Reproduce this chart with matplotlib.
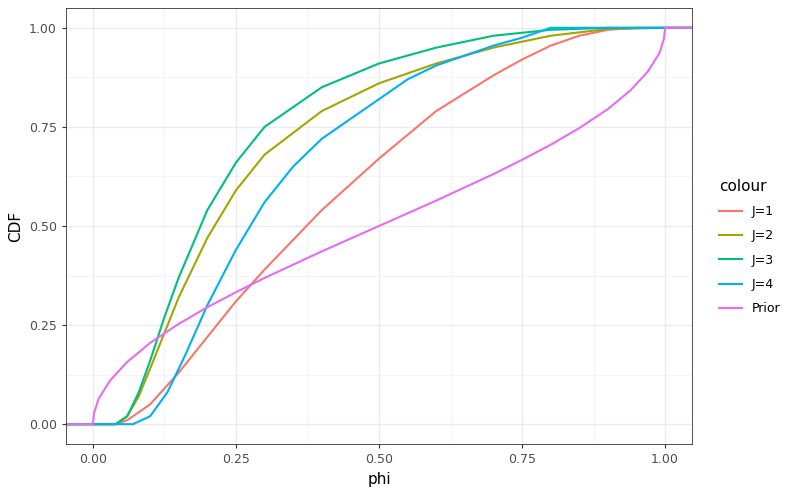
import matplotlib
matplotlib.use("Agg")
import matplotlib.pyplot as plt
from matplotlib.lines import Line2D

# values
x_j1 = [0.0, 0.04, 0.06, 0.1, 0.15, 0.2, 0.25, 0.3, 0.4, 0.5, 0.6, 0.7, 0.75, 0.8, 0.85, 0.9, 0.95, 1.0]
y_j1 = [0.0, 0.0, 0.01, 0.05, 0.13, 0.22, 0.31, 0.39, 0.54, 0.67, 0.79, 0.88, 0.92, 0.955, 0.98, 0.995, 1.0, 1.0]
x_j2 = [0.0, 0.04, 0.06, 0.08, 0.1, 0.125, 0.15, 0.2, 0.25, 0.3, 0.4, 0.5, 0.6, 0.7, 0.75, 0.8, 0.9, 1.0]
y_j2 = [0.0, 0.0, 0.02, 0.07, 0.14, 0.23, 0.32, 0.47, 0.59, 0.68, 0.79, 0.86, 0.91, 0.95, 0.965, 0.98, 0.997, 1.0]
x_j3 = [0.0, 0.04, 0.06, 0.08, 0.1, 0.125, 0.15, 0.2, 0.25, 0.3, 0.4, 0.5, 0.6, 0.7, 0.8, 0.9, 1.0]
y_j3 = [0.0, 0.0, 0.02, 0.08, 0.16, 0.27, 0.37, 0.54, 0.66, 0.75, 0.85, 0.91, 0.95, 0.98, 0.995, 1.0, 1.0]
x_j4 = [0.0, 0.07, 0.1, 0.13, 0.16, 0.2, 0.25, 0.3, 0.35, 0.4, 0.45, 0.5, 0.55, 0.6, 0.65, 0.7, 0.75, 0.78, 0.8, 1.0]
y_j4 = [0.0, 0.0, 0.02, 0.08, 0.17, 0.3, 0.44, 0.56, 0.65, 0.72, 0.77, 0.82, 0.87, 0.905, 0.93, 0.955, 0.975, 0.99, 1.0, 1.0]
x_pr = [0.0, 0.002, 0.01, 0.03, 0.06, 0.1, 0.15, 0.2, 0.25, 0.3, 0.4, 0.5, 0.6, 0.7, 0.75, 0.8, 0.85, 0.9, 0.94, 0.97, 0.99, 0.998, 1.0]
y_pr = [0.0, 0.028, 0.064, 0.11, 0.157, 0.205, 0.253, 0.295, 0.333, 0.369, 0.436, 0.5, 0.564, 0.631, 0.667, 0.705, 0.747, 0.795, 0.843, 0.89, 0.936, 0.972, 1.0]
x_tail = [1.0, 1.05]
y_tail = [1.0, 1.0]

labels = ["J=1", "J=2", "J=3", "J=4", "Prior"]
colors = ["#F8766D", "#A3A500", "#00BF7D", "#00B0F6", "#E76BF3"]
series = [(x_j1, y_j1), (x_j2, y_j2), (x_j3, y_j3), (x_j4, y_j4), (x_pr, y_pr)]

fig = plt.figure(figsize=(8, 4.94), dpi=100)
ax = fig.add_axes([66/800, 50/494, 626/800, 436/494])
for (xs, ys), c in zip(series, colors):
    ax.plot([-0.05] + xs + x_tail, [0.0] + ys + y_tail, color=c, lw=1.5)

ax.set_xlim(-0.047, 1.047)
ax.set_ylim(-0.05, 1.05)
ticks = [0, 0.25, 0.5, 0.75, 1.0]
ax.set_xticks(ticks)
ax.set_yticks(ticks)
ax.set_xticklabels(["0.00", "0.25", "0.50", "0.75", "1.00"], color="#4d4d4d", fontsize=9)
ax.set_yticklabels(["0.00", "0.25", "0.50", "0.75", "1.00"], color="#4d4d4d", fontsize=9)
ax.set_xticks([0.125, 0.375, 0.625, 0.875], minor=True)
ax.set_yticks([0.125, 0.375, 0.625, 0.875], minor=True)
ax.grid(which="major", color="#ebebeb", lw=1.0)
ax.grid(which="minor", color="#f2f2f2", lw=0.6)
ax.set_axisbelow(True)
ax.tick_params(which="major", length=3, color="#333333")
ax.tick_params(which="minor", length=0)
for s in ax.spines.values():
    s.set_color("#333333")
    s.set_linewidth(0.6)
ax.set_xlabel("phi", fontsize=11)
ax.set_ylabel("CDF", fontsize=11)

handles = [Line2D([], [], color=c, lw=1.5) for c in colors]
leg = fig.legend(handles, labels, title="colour", loc="center left",
                 bbox_to_anchor=(708/800, 0.5), frameon=False, fontsize=9,
                 title_fontsize=11, handlelength=1.8, labelspacing=0.9)
leg._legend_box.align = "left"

fig.savefig("out.png", dpi=100)
